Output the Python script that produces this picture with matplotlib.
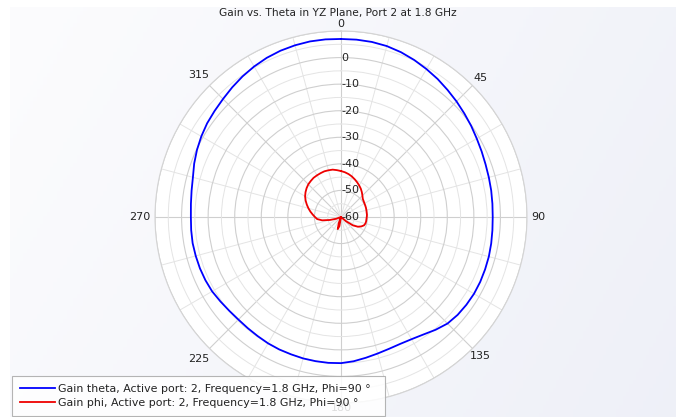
import numpy as np
import matplotlib
matplotlib.use("Agg")
import matplotlib.pyplot as plt
from matplotlib.lines import Line2D

plt.rcParams['axes.unicode_minus'] = False
plt.rcParams['font.family'] = ['DejaVu Sans']

title = "Gain vs. Theta in YZ Plane, Port 2 at 1.8 GHz"
theta_deg = list(range(0, 360, 5)) + [360]

gain_theta = [7.0, 7.0, 6.9, 6.6, 6.0, 5.2, 4.3, 3.4, 2.4, 1.5,
              0.6, -0.2, -1.0, -1.6, -2.1, -2.4, -2.6, -2.8, -2.9, -2.8,
              -2.6, -2.4, -2.3, -2.2, -2.2, -2.4, -2.7, -3.3, -4.6, -6.0,
              -6.9, -7.3, -7.2, -6.8, -6.2, -5.5, -5.0, -4.9, -4.9, -4.9,
              -5.0, -5.0, -5.1, -5.3, -5.4, -5.4, -5.1, -4.6, -4.0, -3.7,
              -3.5, -3.4, -3.3, -3.4, -3.5, -3.3, -2.9, -2.3, -1.2, -0.2,
              0.7, 1.5, 2.1, 2.8, 3.7, 4.6, 5.4, 6.1, 6.6, 6.9,
              7.1, 7.1, 7.0]

gain_phi = [-42.7, -43.1, -43.6, -44.2, -44.9, -45.6, -46.3, -47.0, -47.8, -48.6,
            -49.3, -49.6, -49.8, -49.9, -50.0, -50.1, -50.2, -50.2, -50.3, -50.4,
            -50.4, -50.5, -50.8, -51.6, -52.7, -54.5, -57.5, -60.0, -60.0, -60.0,
            -60.0, -60.0, -60.0, -60.0, -60.0, -60.0, -60.0, -60.0, -56.5, -55.3,
            -57.5, -60.0, -60.0, -60.0, -60.0, -60.0, -60.0, -60.0, -60.0, -60.0,
            -58.0, -55.7, -52.8, -51.0, -50.2, -49.3, -48.3, -47.3, -46.3, -45.3,
            -44.4, -43.7, -43.1, -42.6, -42.3, -42.0, -41.9, -41.8, -41.7, -41.8,
            -41.9, -42.3, -42.7]

labels = ["Gain theta, Active port: 2, Frequency=1.8 GHz, Phi=90 °",
          "Gain phi, Active port: 2, Frequency=1.8 GHz, Phi=90 °"]
colors = ["#0000ff", "#ee0000"]

r_major = [-60, -50, -40, -30, -20, -10, 0, 10]
r_labels = ["-60", "-50", "-40", "-30", "-20", "-10", "0"]
r_minor = [-55, -45, -35, -25, -15, -5, 5]
theta_major = [0, 45, 90, 135, 180, 225, 270, 315]
theta_labels = ["0", "45", "90", "135", "180", "225", "270", "315"]
theta_minor = [15, 30, 60, 75, 105, 120, 150, 165, 195, 210, 240, 255, 285, 300, 330, 345]

W, H = 676, 417
fig = plt.figure(figsize=(W / 100, H / 100), dpi=100)
fig.patch.set_facecolor("white")

# subtle gradient background
bg = fig.add_axes([10 / W, 0, 1 - 10 / W, 1 - 7 / H])
bg.axis("off")
gx = np.linspace(0, 1, 200)[None, :]
gy = np.linspace(0, 1, 100)[:, None]
t = np.clip(0.75 * gx + 0.25 * gy, 0, 1)
c0 = np.array([0.988, 0.988, 0.994])
c1 = np.array([0.935, 0.942, 0.972])
img = c0[None, None, :] * (1 - t[..., None]) + c1[None, None, :] * t[..., None]
bg.imshow(img, aspect="auto", extent=[0, 1, 0, 1], origin="upper")
bg.set_zorder(-10)

cx, cy, R = 341, 217, 186
ax = fig.add_axes([(cx - R) / W, (H - cy - R) / H, 2 * R / W, 2 * R / H], projection="polar")
ax.set_facecolor("white")
ax.set_theta_zero_location("N")
ax.set_theta_direction(-1)
ax.set_ylim(-60, 10)

th = np.deg2rad(theta_deg)
ax.plot(th, np.clip(gain_theta, -60, 10), color=colors[0], lw=1.3, zorder=5)
ax.plot(th, np.clip(gain_phi, -60, 10), color=colors[1], lw=1.3, zorder=5)

ax.set_yticks(r_major)
ax.set_yticks(r_minor, minor=True)
ax.set_yticklabels([])
ax.set_xticks(np.deg2rad(theta_major))
ax.set_xticklabels([])
ax.set_xticks(np.deg2rad(theta_minor), minor=True)
ax.tick_params(axis="x", which="both", length=0)
ax.grid(which="major", color="#cfcfcf", lw=0.8)
ax.grid(which="minor", color="#e4e4e4", lw=0.7)
ax.spines["polar"].set_color("#d4d4d4")
ax.spines["polar"].set_linewidth(0.8)

# theta labels just outside the rim (left side sits slightly further out)
for tv, lab in zip(theta_major, theta_labels):
    rl = 14.2 if tv <= 180 else 15.6
    if tv == 0:
        rl = 12.7
    if tv == 180:
        rl = 11.9
    ax.text(np.deg2rad(tv), rl, lab, ha="center", va="center", fontsize=8,
            color="#222222", clip_on=False)

for rv, lab in zip(r_major, r_labels):
    ax.text(0, rv, lab, ha="left", va="center", fontsize=8, color="#222222", zorder=6)

fig.text(338 / W, 1 - 13 / H, title, ha="center", va="center", fontsize=7.7, color="#222222")

handles = [Line2D([], [], color=c, lw=1.3) for c in colors]
leg = fig.legend(handles, labels, loc="upper left",
                 bbox_to_anchor=(12 / W, 1 - 376 / H - 0.2, 373 / W, 0.2), mode="expand",
                 bbox_transform=fig.transFigure, borderaxespad=0, fontsize=7.9,
                 handlelength=3.2, handletextpad=0.3, borderpad=0.7, labelspacing=0.4,
                 frameon=True, fancybox=False, framealpha=0.85, edgecolor="#a8a8a8")
leg.get_frame().set_linewidth(0.8)
for tx in leg.get_texts():
    tx.set_color("#222222")

fig.savefig("out.png", dpi=100, facecolor=fig.get_facecolor())
